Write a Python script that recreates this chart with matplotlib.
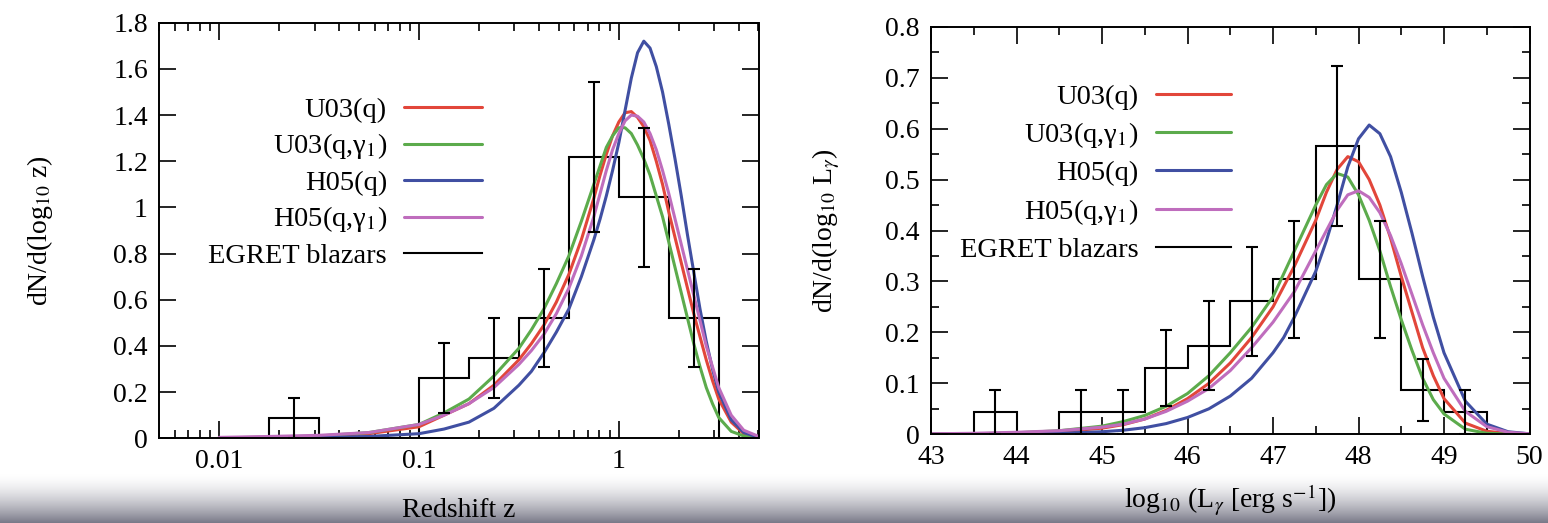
import numpy as np
import matplotlib
matplotlib.use("Agg")
import matplotlib.pyplot as plt
from matplotlib.ticker import FixedLocator, MultipleLocator, FuncFormatter, NullFormatter

plt.rcParams['font.family'] = 'serif'
plt.rcParams['font.serif'] = ['Liberation Serif', 'DejaVu Serif']
plt.rcParams['mathtext.fontset'] = 'stix'

# ---- left panel: redshift distribution ----
logz_edges = [-1.75, -1.5, -1.25, -1.0, -0.75, -0.5, -0.25, 0.0, 0.25, 0.5]
z_hist = [0.087, 0.0, 0.0, 0.261, 0.348, 0.522, 1.217, 1.043, 0.522]
z_err = [0.087, 0.0, 0.0, 0.151, 0.174, 0.213, 0.325, 0.301, 0.213]

logz_curve = [-2.0, -1.75, -1.5, -1.25, -1.0, -0.875, -0.75, -0.625, -0.5, -0.4375,
              -0.375, -0.3125, -0.25, -0.1875, -0.125, -0.09375, -0.0625, -0.03125,
              0.0, 0.03125, 0.0625, 0.09375, 0.125, 0.15625, 0.1875, 0.21875, 0.25,
              0.28125, 0.3125, 0.34375, 0.375, 0.40625, 0.4375, 0.46875, 0.5, 0.5625,
              0.625, 0.7]
z_u03q = [0.002, 0.004, 0.008, 0.02, 0.05, 0.10, 0.15, 0.23, 0.34, 0.41, 0.49, 0.59,
          0.71, 0.86, 1.04, 1.14, 1.23, 1.31, 1.37, 1.41, 1.415, 1.39, 1.35, 1.29,
          1.2, 1.1, 0.98, 0.87, 0.76, 0.65, 0.54, 0.44, 0.34, 0.25, 0.17, 0.07,
          0.02, 0.004]
z_u03qg = [0.002, 0.005, 0.01, 0.025, 0.06, 0.11, 0.17, 0.27, 0.39, 0.47, 0.56, 0.67,
           0.79, 0.94, 1.1, 1.18, 1.26, 1.31, 1.345, 1.345, 1.32, 1.27, 1.21, 1.14,
           1.05, 0.96, 0.85, 0.74, 0.63, 0.52, 0.41, 0.31, 0.22, 0.15, 0.09, 0.03,
           0.01, 0.002]
z_h05q = [0.0, 0.001, 0.003, 0.008, 0.02, 0.04, 0.07, 0.13, 0.23, 0.29, 0.37, 0.46,
          0.56, 0.70, 0.86, 0.95, 1.05, 1.16, 1.28, 1.42, 1.56, 1.67, 1.72, 1.69,
          1.61, 1.5, 1.36, 1.21, 1.05, 0.88, 0.72, 0.56, 0.42, 0.3, 0.2, 0.08,
          0.025, 0.004]
z_h05qg = [0.004, 0.008, 0.013, 0.025, 0.06, 0.1, 0.15, 0.22, 0.32, 0.38, 0.45, 0.54,
           0.65, 0.79, 0.96, 1.06, 1.16, 1.25, 1.32, 1.375, 1.40, 1.395, 1.37, 1.32,
           1.25, 1.16, 1.06, 0.95, 0.84, 0.73, 0.62, 0.51, 0.4, 0.31, 0.22, 0.1,
           0.035, 0.008]

# ---- right panel: luminosity distribution ----
L_edges = [43.5, 44.0, 44.5, 45.0, 45.5, 46.0, 46.5, 47.0, 47.5, 48.0, 48.5, 49.0, 49.5]
L_hist = [0.0435, 0.0, 0.0435, 0.0435, 0.130, 0.174, 0.261, 0.304, 0.565, 0.304, 0.087, 0.0435]
L_err = [0.0435, 0.0, 0.0435, 0.0435, 0.075, 0.087, 0.107, 0.115, 0.157, 0.115, 0.0615, 0.0435]

L_curve = [43.0, 43.5, 44.0, 44.5, 45.0, 45.25, 45.5, 45.75, 46.0, 46.25, 46.5, 46.75,
           47.0, 47.125, 47.25, 47.375, 47.5, 47.625, 47.75, 47.875, 48.0, 48.125,
           48.25, 48.375, 48.5, 48.625, 48.75, 48.875, 49.0, 49.25, 49.5, 49.75, 50.0]
L_u03q = [0.0005, 0.001, 0.002, 0.005, 0.012, 0.019, 0.03, 0.047, 0.07, 0.1, 0.14, 0.19,
          0.25, 0.29, 0.33, 0.375, 0.42, 0.475, 0.52, 0.545, 0.535, 0.50, 0.45, 0.385,
          0.31, 0.24, 0.17, 0.115, 0.07, 0.022, 0.006, 0.0015, 0.0003]
L_u03qg = [0.0005, 0.001, 0.003, 0.007, 0.016, 0.025, 0.037, 0.055, 0.08, 0.115, 0.16,
           0.21, 0.27, 0.315, 0.36, 0.405, 0.45, 0.49, 0.512, 0.505, 0.47, 0.42, 0.36,
           0.29, 0.225, 0.165, 0.11, 0.068, 0.04, 0.01, 0.002, 0.0005, 0.0001]
L_h05q = [0.0002, 0.0005, 0.001, 0.002, 0.005, 0.008, 0.013, 0.021, 0.033, 0.05, 0.075,
          0.11, 0.16, 0.19, 0.23, 0.275, 0.32, 0.38, 0.45, 0.525, 0.58, 0.607, 0.59,
          0.545, 0.475, 0.395, 0.31, 0.23, 0.16, 0.065, 0.02, 0.005, 0.001]
L_h05qg = [0.001, 0.002, 0.004, 0.007, 0.014, 0.02, 0.03, 0.045, 0.065, 0.09, 0.125,
           0.17, 0.22, 0.25, 0.28, 0.32, 0.36, 0.40, 0.44, 0.47, 0.478, 0.465, 0.435,
           0.39, 0.335, 0.275, 0.215, 0.16, 0.11, 0.045, 0.015, 0.004, 0.001]

labels = ['U03(q)', 'U03(q,γ$_1$)', 'H05(q)', 'H05(q,γ$_1$)', 'EGRET blazars']
colors = ['#e2463a', '#5cab4c', '#404fa2', '#bf6dbd']

W, H = 1548, 523
fig = plt.figure(figsize=(W / 100, H / 100), dpi=100)

# faint screenshot shading at the bottom edge
bg = fig.add_axes([0, 0, 1, 1], zorder=-10)
yy = np.linspace(0, 1, H)[:, None]
shade = np.clip((yy * H - 474) / 49, 0, 1) ** 1.6
img = np.ones((H, 2, 3))
img[:, :, 0] -= 0.52 * shade
img[:, :, 1] -= 0.52 * shade
img[:, :, 2] -= 0.46 * shade
bg.imshow(img, aspect='auto', extent=[0, 1, 0, 1])
bg.axis('off')

fs = 20
lfs = 20.5


def style(ax):
    ax.tick_params(which='both', direction='in', top=True, right=True,
                   labelsize=fs, width=1.2)
    ax.tick_params(which='major', length=12, pad=8)
    ax.tick_params(which='minor', length=6)
    for s in ax.spines.values():
        s.set_linewidth(1.4)


# ---- left axes ----
ax1 = fig.add_axes([159 / W, 1 - 438.3 / H, 599.5 / W, 415.6 / H])
ax1.set_xscale('log')
z = [10 ** v for v in logz_curve]
for ys, c, lab in zip([z_u03q, z_u03qg, z_h05q, z_h05qg], colors, labels):
    ax1.plot(z, ys, color=c, lw=2.2, label=lab, solid_capstyle='round',
             solid_joinstyle='round')
zedges = [10 ** v for v in logz_edges]
ax1.stairs(z_hist, zedges, baseline=0, color='black', lw=1.5, label=labels[4])
zc = [10 ** ((a + b) / 2) for a, b in zip(logz_edges[:-1], logz_edges[1:])]
for xc, h, e in zip(zc, z_hist, z_err):
    if h > 0:
        ax1.errorbar(xc, h, yerr=e, fmt='none', ecolor='black', elinewidth=1.5,
                     capsize=4.3, capthick=1.5)
ax1.set_xlim(0.005, 5)
ax1.set_ylim(0, 1.8)
ax1.yaxis.set_major_locator(MultipleLocator(0.2))
ax1.yaxis.set_major_formatter(FuncFormatter(lambda v, p: '%g' % round(v, 2)))
ax1.xaxis.set_major_locator(FixedLocator([0.01, 0.1, 1]))
ax1.xaxis.set_major_formatter(FuncFormatter(lambda v, p: '%g' % v))
ax1.xaxis.set_minor_locator(FixedLocator(
    [m * 10.0 ** d for d in (-3, -2, -1, 0) for m in range(2, 10)]))
ax1.xaxis.set_minor_formatter(NullFormatter())
style(ax1)
ax1.set_xlabel('Redshift z', fontsize=fs, labelpad=17)
ax1.set_ylabel('dN/d(log$_{10}$ z)', fontsize=fs, labelpad=42)
ax1.legend(loc='upper right', bbox_to_anchor=(482 / W, 1 - 97 / H),
           bbox_transform=fig.transFigure, frameon=False, markerfirst=False,
           fontsize=lfs, handlelength=2.74, handletextpad=0.6, labelspacing=0.3,
           borderpad=0, borderaxespad=0)

# ---- right axes ----
ax2 = fig.add_axes([931 / W, 1 - 434.3 / H, 598.5 / W, 407.6 / H])
for ys, c, lab in zip([L_u03q, L_u03qg, L_h05q, L_h05qg], colors, labels):
    ax2.plot(L_curve, ys, color=c, lw=2.2, label=lab, solid_capstyle='round',
             solid_joinstyle='round')
ax2.stairs(L_hist, L_edges, baseline=0, color='black', lw=1.5, label=labels[4])
Lc = [(a + b) / 2 for a, b in zip(L_edges[:-1], L_edges[1:])]
for xc, h, e in zip(Lc, L_hist, L_err):
    if h > 0:
        ax2.errorbar(xc, h, yerr=e, fmt='none', ecolor='black', elinewidth=1.5,
                     capsize=4.3, capthick=1.5)
ax2.set_xlim(43, 50)
ax2.set_ylim(0, 0.8)
ax2.xaxis.set_major_locator(MultipleLocator(1))
ax2.xaxis.set_minor_locator(MultipleLocator(0.5))
ax2.yaxis.set_major_locator(MultipleLocator(0.1))
ax2.yaxis.set_minor_locator(MultipleLocator(0.05))
ax2.yaxis.set_major_formatter(FuncFormatter(lambda v, p: '%g' % round(v, 2)))
style(ax2)
ax2.set_xlabel('log$_{10}$ (L$_γ$ [erg s$^{-1}$])', fontsize=fs, labelpad=9)
ax2.set_ylabel('dN/d(log$_{10}$ L$_γ$)', fontsize=fs, labelpad=31)
ax2.legend(loc='upper right', bbox_to_anchor=(1231 / W, 1 - 84 / H),
           bbox_transform=fig.transFigure, frameon=False, markerfirst=False,
           fontsize=lfs, handlelength=2.65, handletextpad=0.6, labelspacing=0.36,
           borderpad=0, borderaxespad=0)

fig.savefig('out.png', dpi=100)
